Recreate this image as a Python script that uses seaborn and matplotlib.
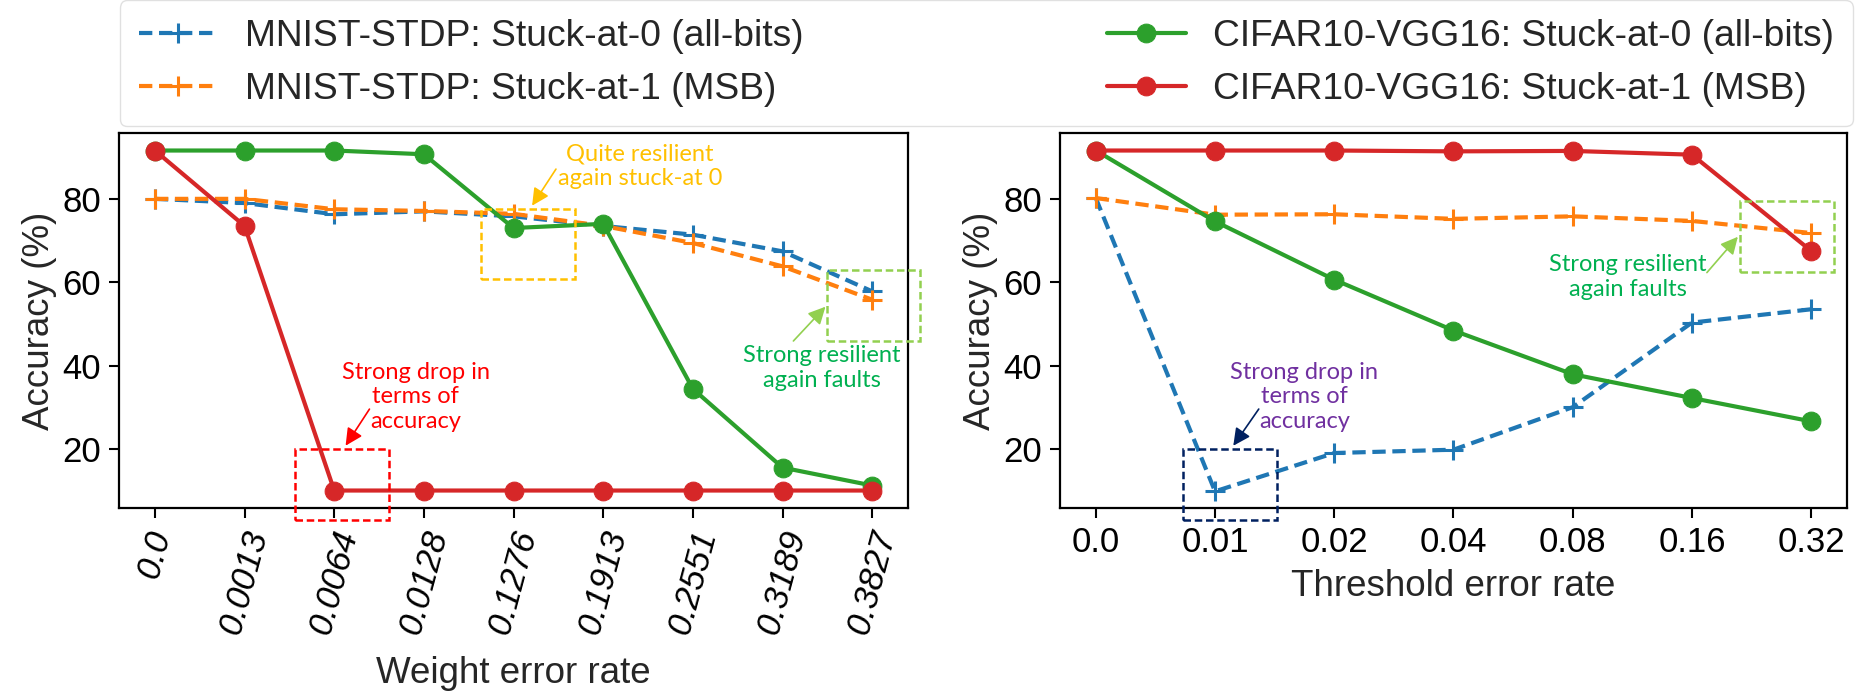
import matplotlib
matplotlib.use("Agg")
import matplotlib.pyplot as plt
import matplotlib.patches as patches
import seaborn as sns

# weight error rate panel
weight_rates = ["0.0", "0.0013", "0.0064", "0.0128", "0.1276", "0.1913", "0.2551", "0.3189", "0.3827"]
w_mnist_sa0 = [80.0, 79.0, 76.3, 77.0, 75.8, 73.5, 71.4, 67.4, 57.8]
w_mnist_sa1 = [80.0, 80.0, 77.5, 77.1, 76.4, 73.5, 69.4, 63.8, 55.8]
w_cifar_sa0 = [91.6, 91.6, 91.6, 90.7, 73.0, 74.0, 34.4, 15.5, 11.2]
w_cifar_sa1 = [91.6, 73.5, 10.0, 10.0, 10.0, 10.0, 10.0, 10.0, 10.0]

# threshold error rate panel
thr_rates = ["0.0", "0.01", "0.02", "0.04", "0.08", "0.16", "0.32"]
t_mnist_sa0 = [80.2, 9.8, 19.0, 19.8, 30.0, 50.3, 53.5]
t_mnist_sa1 = [80.2, 76.2, 76.3, 75.2, 75.8, 74.7, 71.8]
t_cifar_sa0 = [91.6, 74.6, 60.6, 48.4, 37.9, 32.2, 26.6]
t_cifar_sa1 = [91.6, 91.6, 91.6, 91.4, 91.5, 90.6, 67.5]

labels = ["MNIST-STDP: Stuck-at-0 (all-bits)", "MNIST-STDP: Stuck-at-1 (MSB)",
          "CIFAR10-VGG16: Stuck-at-0 (all-bits)", "CIFAR10-VGG16: Stuck-at-1 (MSB)"]
colors = ["#1f77b4", "#ff7f0e", "#2ca02c", "#d62728"]

sns.set_style("ticks")
plt.rcParams["font.family"] = ["Liberation Sans", "DejaVu Sans"]
plt.rcParams["axes.linewidth"] = 1.6
plt.rcParams["xtick.major.size"] = 7
plt.rcParams["ytick.major.size"] = 7
plt.rcParams["xtick.major.width"] = 1.5
plt.rcParams["ytick.major.width"] = 1.5
plt.rcParams["xtick.color"] = "black"
plt.rcParams["ytick.color"] = "black"
plt.rcParams["axes.edgecolor"] = "black"

fig = plt.figure(figsize=(18.6, 6.91), dpi=100)
ax1 = fig.add_axes([0.064, 0.2648, 0.4242, 0.5427])
ax2 = fig.add_axes([0.5699, 0.2648, 0.4231, 0.5427])

dash = (0, (3.2, 1.6))


def draw_panel(ax, series):
    for vals, lab, col, kind in series:
        xs = list(range(len(vals)))
        if kind == "mnist":
            sns.lineplot(x=xs, y=vals, ax=ax, color=col, label=lab, errorbar=None,
                         linestyle=dash, lw=3, marker="+", markersize=15, mew=2.2,
                         mec=col, mfc=col)
        else:
            sns.lineplot(x=xs, y=vals, ax=ax, color=col, label=lab, errorbar=None,
                         lw=3, marker="o", markersize=13.5, mec=col, mfc=col)


kinds = ["mnist", "mnist", "cifar", "cifar"]
draw_panel(ax1, zip([w_mnist_sa0, w_mnist_sa1, w_cifar_sa0, w_cifar_sa1], labels, colors, kinds))
draw_panel(ax2, zip([t_mnist_sa0, t_mnist_sa1, t_cifar_sa0, t_cifar_sa1], labels, colors, kinds))

for ax, ticks, xl, lp in [(ax1, weight_rates, "Weight error rate", 13),
                          (ax2, thr_rates, "Threshold error rate", 7)]:
    ax.set_xlim(-0.05 * (len(ticks) - 1), (len(ticks) - 1) * 1.05)
    ax.set_ylim(5.8, 95.8)
    ax.set_yticks([20, 40, 60, 80])
    ax.set_xticks(range(len(ticks)))
    ax.set_ylabel("Accuracy (%)", fontsize=26.5)
    ax.set_xlabel(xl, fontsize=26.5, labelpad=lp)
    ax.tick_params(labelsize=25, pad=6)
    for s in ax.spines.values():
        s.set_visible(True)
    if ax.get_legend() is not None:
        ax.get_legend().remove()

ax1.set_xticklabels(weight_rates, rotation=75, style="italic")
ax2.set_xticklabels(thr_rates)

ann_font = ["Lato", "DejaVu Sans"]


def note(ax, text, xy, color, box, box_color, arrow_from, arrow_to, arrow_color):
    ax.text(xy[0], xy[1], text, color=color, ha="center", va="center", fontsize=17,
            family=ann_font, linespacing=1.22)
    (x0, x1), (y0, y1) = box
    ax.add_patch(patches.Rectangle((x0, y0), x1 - x0, y1 - y0, fill=False, ec=box_color,
                                   lw=1.8, ls=(0, (3, 1.5)), clip_on=False, zorder=5))
    ax.annotate("", xy=arrow_to, xytext=arrow_from, annotation_clip=False,
                arrowprops=dict(arrowstyle="-|>", color=arrow_color, lw=1.2, mutation_scale=26))


note(ax1, "Quite resilient\nagain stuck-at 0", (5.41, 87.9), "#FFC000",
     ((3.64, 4.69), (60.8, 77.6)), "#FFC000", (4.49, 87.7), (4.19, 77.8), "#FFC000")
note(ax1, "Strong drop in\nterms of\naccuracy", (2.91, 32.5), "#FF0000",
     ((1.56, 2.61), (2.95, 20.0)), "#FF0000", (2.41, 30.1), (2.11, 20.2), "#FF0000")
note(ax1, "Strong resilient\nagain faults", (7.44, 39.4), "#00B050",
     ((7.50, 8.53), (45.9, 63.0)), "#92D050", (7.10, 45.4), (7.50, 54.6), "#92D050")

note(ax2, "Strong drop in\nterms of\naccuracy", (1.75, 32.5), "#7030A0",
     ((0.73, 1.52), (2.95, 20.0)), "#002060", (1.38, 30.1), (1.14, 20.2), "#002060")
note(ax2, "Strong resilient\nagain faults", (4.46, 61.3), "#00B050",
     ((5.40, 6.19), (62.5, 79.5)), "#92D050", (5.11, 61.8), (5.40, 71.4), "#92D050")

handles, labs = ax1.get_legend_handles_labels()
fig.legend(handles, labs, ncol=2, mode="expand", loc="lower left",
           bbox_to_anchor=(0.0645, 0.8177, 0.9317, 0.1722), fontsize=26.8,
           handlelength=2.1, handletextpad=0.75, borderpad=0.5, labelspacing=0.5,
           frameon=True, fancybox=True, edgecolor="0.85", borderaxespad=0)

fig.savefig("out.png", dpi=100)
